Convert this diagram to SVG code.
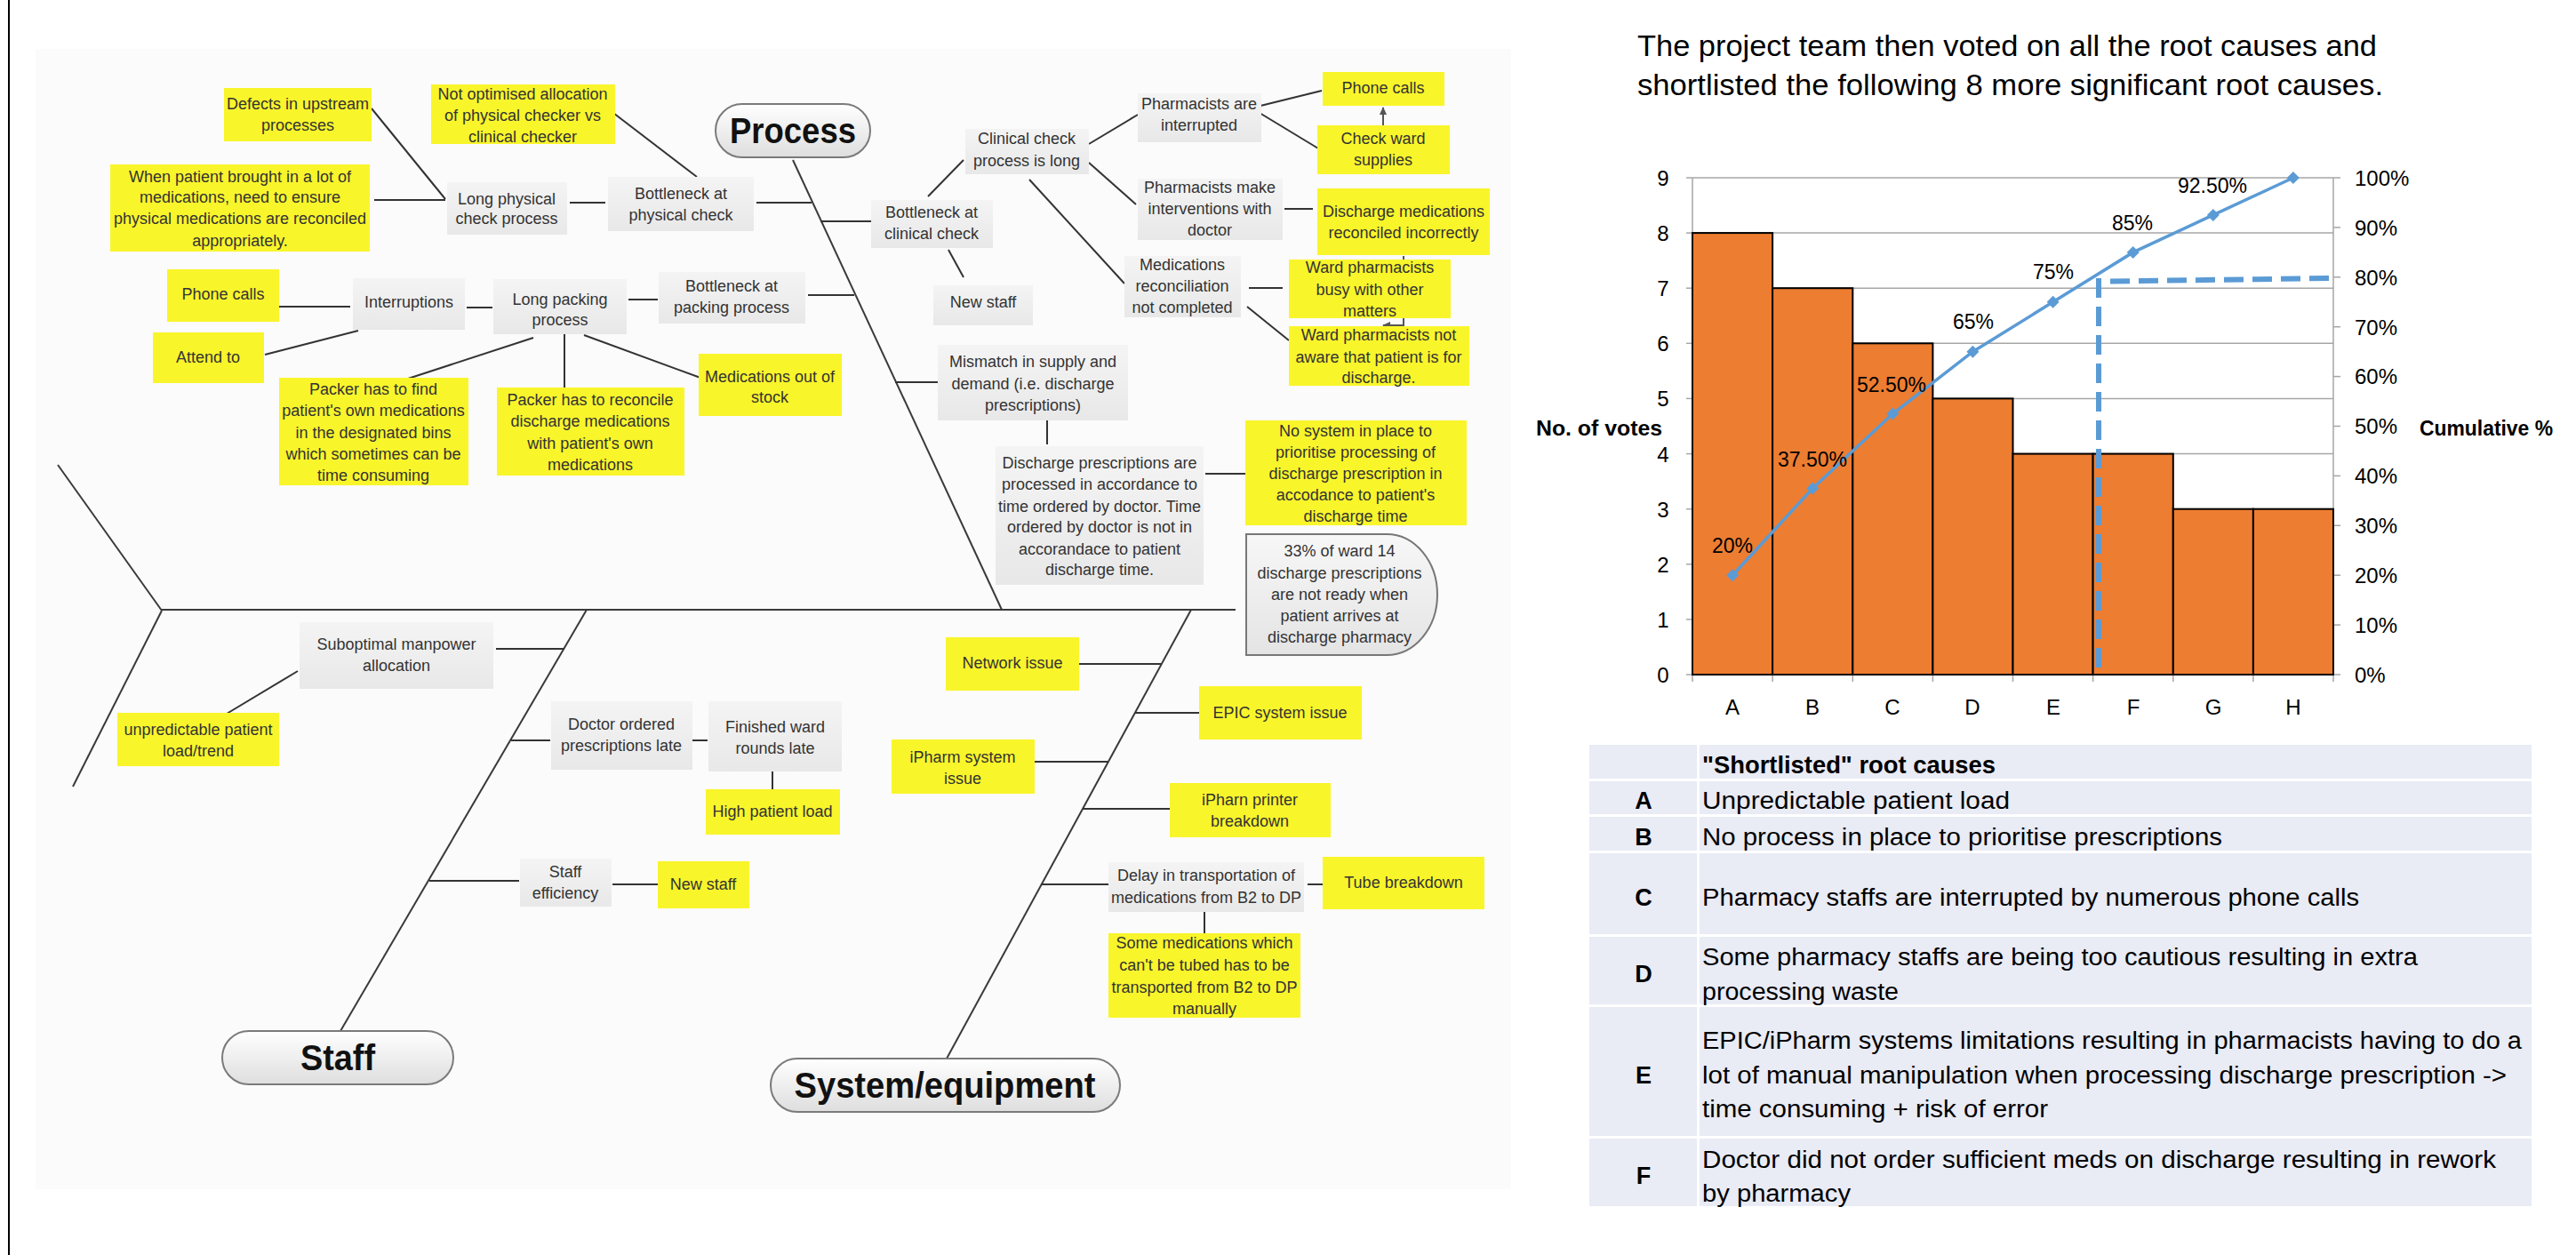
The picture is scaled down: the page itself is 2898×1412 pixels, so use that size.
<svg xmlns="http://www.w3.org/2000/svg" width="2898" height="1412" viewBox="0 0 2898 1412">
<defs>
<linearGradient id="gg" x1="0" y1="0" x2="0" y2="1"><stop offset="0" stop-color="#f4f4f4"/><stop offset="1" stop-color="#e8e8e8"/></linearGradient>
<linearGradient id="pg" x1="0" y1="0" x2="0" y2="1"><stop offset="0" stop-color="#ffffff"/><stop offset="1" stop-color="#dedede"/></linearGradient>
<linearGradient id="cg" x1="0" y1="0" x2="0" y2="1"><stop offset="0" stop-color="#f7f7f7"/><stop offset="1" stop-color="#e4e4e4"/></linearGradient>
<marker id="ah" markerWidth="10" markerHeight="10" refX="8" refY="5" orient="auto" markerUnits="userSpaceOnUse"><path d="M0,1 L9,5 L0,9 Z" fill="#555"/></marker>
<path id="dm" d="M0,-7 L7,0 L0,7 L-7,0 Z" fill="#5B9BD5"/>
<style>
.yb{fill:#f9f52b}
.gb{fill:url(#gg)}
.t{font-family:"Liberation Sans",Arial,sans-serif;font-size:18px;fill:#333;text-anchor:middle}
.c{stroke:#333;stroke-width:2;fill:none}
.bone{stroke:#3a3a3a;stroke-width:2;fill:none}
.pill{fill:url(#pg);stroke:#7a7a7a;stroke-width:2}
.pt{font-family:"Liberation Sans",Arial,sans-serif;font-weight:bold;font-size:40px;fill:#111;text-anchor:middle}
.gl{stroke:#a6a6a6;stroke-width:1.5;fill:none}
.bar{fill:#ED7D31;stroke:#000;stroke-width:2}
.f{font-family:"Liberation Sans",Arial,sans-serif;fill:#000}
.tk{font-size:24px}
.tm{font-size:24px;text-anchor:end}
.dl{font-size:23px;text-anchor:middle}
.tb{fill:#E9EBF5}
.tt{font-size:27px}
.tl{font-size:27px;font-weight:bold;text-anchor:middle}
.dash{stroke:#5B9BD5;stroke-width:6;stroke-dasharray:22 10;fill:none}
</style>
</defs>
<rect width="2898" height="1412" fill="#ffffff"/>
<rect x="40" y="55" width="1660" height="1283" fill="#fbfbfb"/>
<line x1="10" y1="0" x2="10" y2="1412" stroke="#000" stroke-width="2"/>

<g id="connectors">
<line class="bone" x1="65" y1="523" x2="182" y2="687"/>
<line class="bone" x1="182" y1="687" x2="82" y2="885"/>
<line class="bone" x1="182" y1="686" x2="1390" y2="686" stroke-width="2.5"/>
<line class="bone" x1="892" y1="180" x2="1127" y2="686"/>
<line class="bone" x1="660" y1="686" x2="383" y2="1160"/>
<line class="bone" x1="1340" y1="686" x2="1065" y2="1191"/>
<line class="c" x1="418" y1="122" x2="501" y2="224"/>
<line class="c" x1="421" y1="225" x2="501" y2="225"/>
<line class="c" x1="641" y1="228" x2="681" y2="228"/>
<line class="c" x1="686" y1="124" x2="784" y2="199"/>
<line class="c" x1="851" y1="228" x2="913" y2="228"/>
<line class="c" x1="314" y1="345" x2="394" y2="345"/>
<line class="c" x1="298" y1="399" x2="403" y2="372"/>
<line class="c" x1="525" y1="346" x2="554" y2="346"/>
<line class="c" x1="707" y1="337" x2="740" y2="337"/>
<line class="c" x1="909" y1="332" x2="961" y2="332"/>
<line class="c" x1="600" y1="380" x2="459" y2="426"/>
<line class="c" x1="635" y1="376" x2="635" y2="447"/>
<line class="c" x1="657" y1="377" x2="788" y2="425"/>
<line class="c" x1="923" y1="249" x2="980" y2="249"/>
<line class="c" x1="1044" y1="221" x2="1084" y2="180"/>
<line class="c" x1="1067" y1="281" x2="1084" y2="312"/>
<line class="c" x1="1225" y1="162" x2="1280" y2="129"/>
<line class="c" x1="1225" y1="183" x2="1278" y2="230"/>
<line class="c" x1="1158" y1="202" x2="1265" y2="319"/>
<line class="c" x1="1414" y1="120" x2="1487" y2="102"/>
<line class="c" x1="1417" y1="127" x2="1483" y2="167"/>
<line x1="1556" y1="141" x2="1556" y2="121" stroke="#555" stroke-width="2" marker-end="url(#ah)"/>
<line class="c" x1="1445" y1="235" x2="1477" y2="235"/>
<line class="c" x1="1405" y1="324" x2="1443" y2="324"/>
<line class="c" x1="1403" y1="345" x2="1450" y2="383"/>
<polyline points="1579,288 1579,366 1556,366" fill="none" stroke="#555" stroke-width="2" marker-end="url(#ah)"/>
<line class="c" x1="1007" y1="430" x2="1055" y2="430"/>
<line class="c" x1="1178" y1="473" x2="1178" y2="500"/>
<line class="c" x1="1356" y1="533" x2="1405" y2="533"/>
<line class="c" x1="558" y1="730" x2="635" y2="730"/>
<line class="c" x1="335" y1="755" x2="255" y2="803"/>
<line class="c" x1="575" y1="833" x2="619" y2="833"/>
<line class="c" x1="779" y1="833" x2="796" y2="833"/>
<line class="c" x1="869" y1="868" x2="869" y2="888"/>
<line class="c" x1="483" y1="991" x2="584" y2="991"/>
<line class="c" x1="689" y1="995" x2="740" y2="995"/>
<line class="c" x1="1214" y1="747" x2="1306" y2="747"/>
<line class="c" x1="1277" y1="802" x2="1349" y2="802"/>
<line class="c" x1="1164" y1="857" x2="1246" y2="857"/>
<line class="c" x1="1218" y1="910" x2="1316" y2="910"/>
<line class="c" x1="1171" y1="995" x2="1247" y2="995"/>
<line class="c" x1="1471" y1="995" x2="1488" y2="995"/>
<line class="c" x1="1355" y1="1026" x2="1355" y2="1050"/>
</g>

<g id="process"><rect class="pill" x="805" y="117" width="174" height="60" rx="30"/><text class="pt" x="892" y="161" textLength="142" lengthAdjust="spacingAndGlyphs">Process</text></g>
<g id="staff"><rect class="pill" x="250" y="1160" width="260" height="60" rx="30"/><text class="pt" x="380" y="1204" textLength="84" lengthAdjust="spacingAndGlyphs">Staff</text></g>
<g id="system"><rect class="pill" x="867" y="1191" width="393" height="60" rx="30"/><text class="pt" x="1063" y="1235" textLength="339" lengthAdjust="spacingAndGlyphs">System/equipment</text></g>

<g id="n-defects"><rect class="yb" x="252" y="99" width="166" height="60"/><text class="t" x="335" y="123">Defects in upstream</text><text class="t" x="335" y="147">processes</text></g>
<g id="n-notopt"><rect class="yb" x="485" y="95" width="207" height="67"/><text class="t" x="588" y="112">Not optimised allocation</text><text class="t" x="588" y="136">of physical checker vs</text><text class="t" x="588" y="160">clinical checker</text></g>
<g id="n-whenpatient"><rect class="yb" x="124" y="185" width="292" height="98"/><text class="t" x="270" y="205">When patient brought in a lot of</text><text class="t" x="270" y="228">medications, need to ensure</text><text class="t" x="270" y="252">physical medications are reconciled</text><text class="t" x="270" y="277">appropriately.</text></g>
<g id="n-longphys"><rect class="gb" x="503" y="205" width="135" height="59"/><text class="t" x="570" y="230">Long physical</text><text class="t" x="570" y="252">check process</text></g>
<g id="n-bottlephys"><rect class="gb" x="684" y="199" width="164" height="61"/><text class="t" x="766" y="224">Bottleneck at</text><text class="t" x="766" y="248">physical check</text></g>
<g id="n-phone1"><rect class="yb" x="188" y="303" width="126" height="59"/><text class="t" x="251" y="337">Phone calls</text></g>
<g id="n-attend"><rect class="yb" x="172" y="374" width="125" height="57"/><text class="t" x="234" y="408">Attend to</text></g>
<g id="n-interrupt"><rect class="gb" x="397" y="313" width="126" height="58"/><text class="t" x="460" y="346">Interruptions</text></g>
<g id="n-longpack"><rect class="gb" x="555" y="314" width="150" height="62"/><text class="t" x="630" y="343">Long packing</text><text class="t" x="630" y="366">process</text></g>
<g id="n-bottlepack"><rect class="gb" x="741" y="306" width="165" height="58"/><text class="t" x="823" y="328">Bottleneck at</text><text class="t" x="823" y="352">packing process</text></g>
<g id="n-packerfind"><rect class="yb" x="314" y="425" width="213" height="121"/><text class="t" x="420" y="444">Packer has to find</text><text class="t" x="420" y="468">patient's own medications</text><text class="t" x="420" y="493">in the designated bins</text><text class="t" x="420" y="517">which sometimes can be</text><text class="t" x="420" y="541">time consuming</text></g>
<g id="n-packerrec"><rect class="yb" x="559" y="436" width="211" height="99"/><text class="t" x="664" y="456">Packer has to reconcile</text><text class="t" x="664" y="480">discharge medications</text><text class="t" x="664" y="505">with patient's own</text><text class="t" x="664" y="529">medications</text></g>
<g id="n-outofstock"><rect class="yb" x="786" y="398" width="161" height="70"/><text class="t" x="866" y="430">Medications out of</text><text class="t" x="866" y="453">stock</text></g>
<g id="n-bottleclin"><rect class="gb" x="980" y="225" width="137" height="54"/><text class="t" x="1048" y="245">Bottleneck at</text><text class="t" x="1048" y="269">clinical check</text></g>
<g id="n-clinlong"><rect class="gb" x="1086" y="145" width="139" height="51"/><text class="t" x="1155" y="162">Clinical check</text><text class="t" x="1155" y="187">process is long</text></g>
<g id="n-newstaff1"><rect class="gb" x="1050" y="321" width="112" height="45"/><text class="t" x="1106" y="346">New staff</text></g>
<g id="n-pharmint"><rect class="gb" x="1280" y="105" width="139" height="55"/><text class="t" x="1349" y="123">Pharmacists are</text><text class="t" x="1349" y="147">interrupted</text></g>
<g id="n-phone2"><rect class="yb" x="1488" y="81" width="137" height="38"/><text class="t" x="1556" y="105">Phone calls</text></g>
<g id="n-checkward"><rect class="yb" x="1482" y="141" width="149" height="55"/><text class="t" x="1556" y="162">Check ward</text><text class="t" x="1556" y="186">supplies</text></g>
<g id="n-pharmmake"><rect class="gb" x="1280" y="201" width="163" height="69"/><text class="t" x="1361" y="217">Pharmacists make</text><text class="t" x="1361" y="241">interventions with</text><text class="t" x="1361" y="265">doctor</text></g>
<g id="n-dischmeds"><rect class="yb" x="1482" y="212" width="194" height="75"/><text class="t" x="1579" y="244">Discharge medications</text><text class="t" x="1579" y="268">reconciled incorrectly</text></g>
<g id="n-medrecon"><rect class="gb" x="1265" y="288" width="131" height="69"/><text class="t" x="1330" y="304">Medications</text><text class="t" x="1330" y="328">reconciliation</text><text class="t" x="1330" y="352">not completed</text></g>
<g id="n-wardbusy"><rect class="yb" x="1450" y="292" width="182" height="66"/><text class="t" x="1541" y="307">Ward pharmacists</text><text class="t" x="1541" y="332">busy with other</text><text class="t" x="1541" y="356">matters</text></g>
<g id="n-wardnot"><rect class="yb" x="1450" y="367" width="203" height="67"/><text class="t" x="1551" y="383">Ward pharmacists not</text><text class="t" x="1551" y="408">aware that patient is for</text><text class="t" x="1551" y="431">discharge.</text></g>
<g id="n-mismatch"><rect class="gb" x="1055" y="388" width="214" height="85"/><text class="t" x="1162" y="413">Mismatch in supply and</text><text class="t" x="1162" y="438">demand (i.e. discharge</text><text class="t" x="1162" y="462">prescriptions)</text></g>
<g id="n-dischpres"><rect class="gb" x="1120" y="502" width="234" height="156"/><text class="t" x="1237" y="527">Discharge prescriptions are</text><text class="t" x="1237" y="551">processed in accordance to</text><text class="t" x="1237" y="576">time ordered by doctor. Time</text><text class="t" x="1237" y="599">ordered by doctor is not in</text><text class="t" x="1237" y="624">accorandace to patient</text><text class="t" x="1237" y="647">discharge time.</text></g>
<g id="n-nosystem"><rect class="yb" x="1401" y="473" width="249" height="118"/><text class="t" x="1525" y="491">No system in place to</text><text class="t" x="1525" y="515">prioritise processing of</text><text class="t" x="1525" y="539">discharge prescription in</text><text class="t" x="1525" y="563">accodance to patient's</text><text class="t" x="1525" y="587">discharge time</text></g>
<g id="n-effect"><path d="M1402,601 H1560 A57,68 0 0 1 1560,737 H1402 Z" fill="url(#cg)" stroke="#777" stroke-width="2"/><text class="t" x="1507" y="626">33% of ward 14</text><text class="t" x="1507" y="651">discharge prescriptions</text><text class="t" x="1507" y="675">are not ready when</text><text class="t" x="1507" y="699">patient arrives at</text><text class="t" x="1507" y="723">discharge pharmacy</text></g>

<g id="s-subopt"><rect class="gb" x="337" y="700" width="218" height="75"/><text class="t" x="446" y="731">Suboptimal manpower</text><text class="t" x="446" y="755">allocation</text></g>
<g id="s-unpred"><rect class="yb" x="132" y="802" width="182" height="60"/><text class="t" x="223" y="827">unpredictable patient</text><text class="t" x="223" y="851">load/trend</text></g>
<g id="s-doctor"><rect class="gb" x="620" y="789" width="159" height="77"/><text class="t" x="699" y="821">Doctor ordered</text><text class="t" x="699" y="845">prescriptions late</text></g>
<g id="s-finished"><rect class="gb" x="797" y="789" width="150" height="79"/><text class="t" x="872" y="824">Finished ward</text><text class="t" x="872" y="848">rounds late</text></g>
<g id="s-highload"><rect class="yb" x="794" y="888" width="151" height="51"/><text class="t" x="869" y="919">High patient load</text></g>
<g id="s-efficiency"><rect class="gb" x="585" y="966" width="103" height="54"/><text class="t" x="636" y="987">Staff</text><text class="t" x="636" y="1011">efficiency</text></g>
<g id="s-newstaff"><rect class="yb" x="740" y="969" width="103" height="53"/><text class="t" x="791" y="1001">New staff</text></g>

<g id="y-network"><rect class="yb" x="1064" y="717" width="150" height="60"/><text class="t" x="1139" y="752">Network issue</text></g>
<g id="y-epic"><rect class="yb" x="1349" y="772" width="183" height="60"/><text class="t" x="1440" y="808">EPIC system issue</text></g>
<g id="y-ipharm"><rect class="yb" x="1003" y="832" width="161" height="61"/><text class="t" x="1083" y="858">iPharm system</text><text class="t" x="1083" y="882">issue</text></g>
<g id="y-printer"><rect class="yb" x="1316" y="881" width="181" height="61"/><text class="t" x="1406" y="906">iPharn printer</text><text class="t" x="1406" y="930">breakdown</text></g>
<g id="y-delay"><rect class="gb" x="1247" y="970" width="220" height="56"/><text class="t" x="1357" y="991">Delay in transportation of</text><text class="t" x="1357" y="1016">medications from B2 to DP</text></g>
<g id="y-tube"><rect class="yb" x="1488" y="964" width="182" height="59"/><text class="t" x="1579" y="999">Tube breakdown</text></g>
<g id="y-somemeds"><rect class="yb" x="1247" y="1050" width="216" height="95"/><text class="t" x="1355" y="1067">Some medications which</text><text class="t" x="1355" y="1092">can't be tubed has to be</text><text class="t" x="1355" y="1117">transported from B2 to DP</text><text class="t" x="1355" y="1141">manually</text></g>

<g id="title" class="f">
<text x="1842" y="63" font-size="34" textLength="832" lengthAdjust="spacingAndGlyphs">The project team then voted on all the root causes and</text>
<text x="1842" y="107" font-size="34" textLength="839" lengthAdjust="spacingAndGlyphs">shortlisted the following 8 more significant root causes.</text>
</g>

<g id="chart">
<g class="gl">
<line x1="1904" y1="200" x2="2625" y2="200"/><line x1="1904" y1="262.1" x2="2625" y2="262.1"/><line x1="1904" y1="324.2" x2="2625" y2="324.2"/><line x1="1904" y1="386.3" x2="2625" y2="386.3"/><line x1="1904" y1="448.4" x2="2625" y2="448.4"/><line x1="1904" y1="510.6" x2="2625" y2="510.6"/><line x1="1904" y1="572.7" x2="2625" y2="572.7"/><line x1="1904" y1="634.8" x2="2625" y2="634.8"/><line x1="1904" y1="696.9" x2="2625" y2="696.9"/>
<line x1="1904" y1="200" x2="1904" y2="759"/><line x1="2625" y1="200" x2="2625" y2="759"/><line x1="1904" y1="759" x2="2625" y2="759"/>
<line x1="1897" y1="200" x2="1904" y2="200"/><line x1="1897" y1="262.1" x2="1904" y2="262.1"/><line x1="1897" y1="324.2" x2="1904" y2="324.2"/><line x1="1897" y1="386.3" x2="1904" y2="386.3"/><line x1="1897" y1="448.4" x2="1904" y2="448.4"/><line x1="1897" y1="510.6" x2="1904" y2="510.6"/><line x1="1897" y1="572.7" x2="1904" y2="572.7"/><line x1="1897" y1="634.8" x2="1904" y2="634.8"/><line x1="1897" y1="696.9" x2="1904" y2="696.9"/><line x1="1897" y1="759" x2="1904" y2="759"/>
<line x1="2625" y1="200" x2="2633" y2="200"/><line x1="2625" y1="255.9" x2="2633" y2="255.9"/><line x1="2625" y1="311.8" x2="2633" y2="311.8"/><line x1="2625" y1="367.7" x2="2633" y2="367.7"/><line x1="2625" y1="423.6" x2="2633" y2="423.6"/><line x1="2625" y1="479.5" x2="2633" y2="479.5"/><line x1="2625" y1="535.4" x2="2633" y2="535.4"/><line x1="2625" y1="591.3" x2="2633" y2="591.3"/><line x1="2625" y1="647.2" x2="2633" y2="647.2"/><line x1="2625" y1="703.1" x2="2633" y2="703.1"/><line x1="2625" y1="759" x2="2633" y2="759"/>
<line x1="1904" y1="759" x2="1904" y2="767"/><line x1="1994.1" y1="759" x2="1994.1" y2="767"/><line x1="2084.3" y1="759" x2="2084.3" y2="767"/><line x1="2174.4" y1="759" x2="2174.4" y2="767"/><line x1="2264.5" y1="759" x2="2264.5" y2="767"/><line x1="2354.6" y1="759" x2="2354.6" y2="767"/><line x1="2444.8" y1="759" x2="2444.8" y2="767"/><line x1="2534.9" y1="759" x2="2534.9" y2="767"/><line x1="2625" y1="759" x2="2625" y2="767"/>
</g>
<rect class="bar" x="1904" y="262.1" width="90.1" height="496.9"/>
<rect class="bar" x="1994.1" y="324.2" width="90.2" height="434.8"/>
<rect class="bar" x="2084.3" y="386.3" width="90.1" height="372.7"/>
<rect class="bar" x="2174.4" y="448.4" width="90.1" height="310.6"/>
<rect class="bar" x="2264.5" y="510.6" width="90.1" height="248.4"/>
<rect class="bar" x="2354.6" y="510.6" width="90.2" height="248.4"/>
<rect class="bar" x="2444.8" y="572.7" width="90.1" height="186.3"/>
<rect class="bar" x="2534.9" y="572.7" width="90.1" height="186.3"/>
<line class="dash" x1="2361" y1="313" x2="2361" y2="759"/>
<line class="dash" x1="2374" y1="316.5" x2="2622" y2="313"/>
<polyline points="1949.1,647.2 2039.2,549.4 2129.3,465.5 2219.4,395.7 2309.6,339.8 2399.7,283.9 2489.8,241.9 2579.9,200" fill="none" stroke="#5B9BD5" stroke-width="3.5"/>
<use href="#dm" x="1949.1" y="647.2"/><use href="#dm" x="2039.2" y="549.4"/><use href="#dm" x="2129.3" y="465.5"/><use href="#dm" x="2219.4" y="395.7"/><use href="#dm" x="2309.6" y="339.8"/><use href="#dm" x="2399.7" y="283.9"/><use href="#dm" x="2489.8" y="241.9"/><use href="#dm" x="2579.9" y="200"/>
<g class="f dl">
<text x="1949" y="622">20%</text><text x="2039" y="525">37.50%</text><text x="2128" y="441">52.50%</text><text x="2220" y="370">65%</text><text x="2310" y="314">75%</text><text x="2399" y="259">85%</text><text x="2489" y="217">92.50%</text>
</g>
<g class="f tk" text-anchor="middle">
<text x="1871" y="209">9</text><text x="1871" y="271">8</text><text x="1871" y="333">7</text><text x="1871" y="395">6</text><text x="1871" y="457">5</text><text x="1871" y="520">4</text><text x="1871" y="582">3</text><text x="1871" y="644">2</text><text x="1871" y="706">1</text><text x="1871" y="768">0</text>
<text x="1949" y="804">A</text><text x="2039" y="804">B</text><text x="2129" y="804">C</text><text x="2219" y="804">D</text><text x="2310" y="804">E</text><text x="2400" y="804">F</text><text x="2490" y="804">G</text><text x="2580" y="804">H</text>
</g>
<g class="f tk">
<text x="2649" y="209">100%</text><text x="2649" y="265">90%</text><text x="2649" y="321">80%</text><text x="2649" y="377">70%</text><text x="2649" y="432">60%</text><text x="2649" y="488">50%</text><text x="2649" y="544">40%</text><text x="2649" y="600">30%</text><text x="2649" y="656">20%</text><text x="2649" y="712">10%</text><text x="2649" y="768">0%</text>
</g>
<text class="f" x="1728" y="490" font-size="24" font-weight="bold" textLength="142" lengthAdjust="spacingAndGlyphs">No. of votes</text>
<text class="f" x="2722" y="490" font-size="24" font-weight="bold" textLength="150" lengthAdjust="spacingAndGlyphs">Cumulative %</text>
</g>

<g id="table">
<rect class="tb" x="1788" y="838" width="121" height="38"/><rect class="tb" x="1912" y="838" width="936" height="38"/>
<rect class="tb" x="1788" y="879" width="121" height="37"/><rect class="tb" x="1912" y="879" width="936" height="37"/>
<rect class="tb" x="1788" y="919" width="121" height="38"/><rect class="tb" x="1912" y="919" width="936" height="38"/>
<rect class="tb" x="1788" y="960" width="121" height="91"/><rect class="tb" x="1912" y="960" width="936" height="91"/>
<rect class="tb" x="1788" y="1054" width="121" height="76"/><rect class="tb" x="1912" y="1054" width="936" height="76"/>
<rect class="tb" x="1788" y="1133" width="121" height="145"/><rect class="tb" x="1912" y="1133" width="936" height="145"/>
<rect class="tb" x="1788" y="1281" width="121" height="76"/><rect class="tb" x="1912" y="1281" width="936" height="76"/>
<g class="f tl">
<text x="1849" y="910">A</text><text x="1849" y="951">B</text><text x="1849" y="1019">C</text><text x="1849" y="1105">D</text><text x="1849" y="1219">E</text><text x="1849" y="1332">F</text>
</g>
<g class="f tt">
<text x="1915" y="870" font-weight="bold" textLength="330" lengthAdjust="spacingAndGlyphs">"Shortlisted" root causes</text>
<text x="1915" y="910" textLength="346" lengthAdjust="spacingAndGlyphs">Unpredictable patient load</text>
<text x="1915" y="951" textLength="585" lengthAdjust="spacingAndGlyphs">No process in place to prioritise prescriptions</text>
<text x="1915" y="1019" textLength="739" lengthAdjust="spacingAndGlyphs">Pharmacy staffs are interrupted by numerous phone calls</text>
<text x="1915" y="1086" textLength="805" lengthAdjust="spacingAndGlyphs">Some pharmacy staffs are being too cautious resulting in extra</text>
<text x="1915" y="1125" textLength="221" lengthAdjust="spacingAndGlyphs">processing waste</text>
<text x="1915" y="1180" textLength="922" lengthAdjust="spacingAndGlyphs">EPIC/iPharm systems limitations resulting in pharmacists having to do a</text>
<text x="1915" y="1219" textLength="905" lengthAdjust="spacingAndGlyphs">lot of manual manipulation when processing discharge prescription -&gt;</text>
<text x="1915" y="1257" textLength="389" lengthAdjust="spacingAndGlyphs">time consuming + risk of error</text>
<text x="1915" y="1314" textLength="893" lengthAdjust="spacingAndGlyphs">Doctor did not order sufficient meds on discharge resulting in rework</text>
<text x="1915" y="1352" textLength="167" lengthAdjust="spacingAndGlyphs">by pharmacy</text>
</g>
</g>
</svg>
